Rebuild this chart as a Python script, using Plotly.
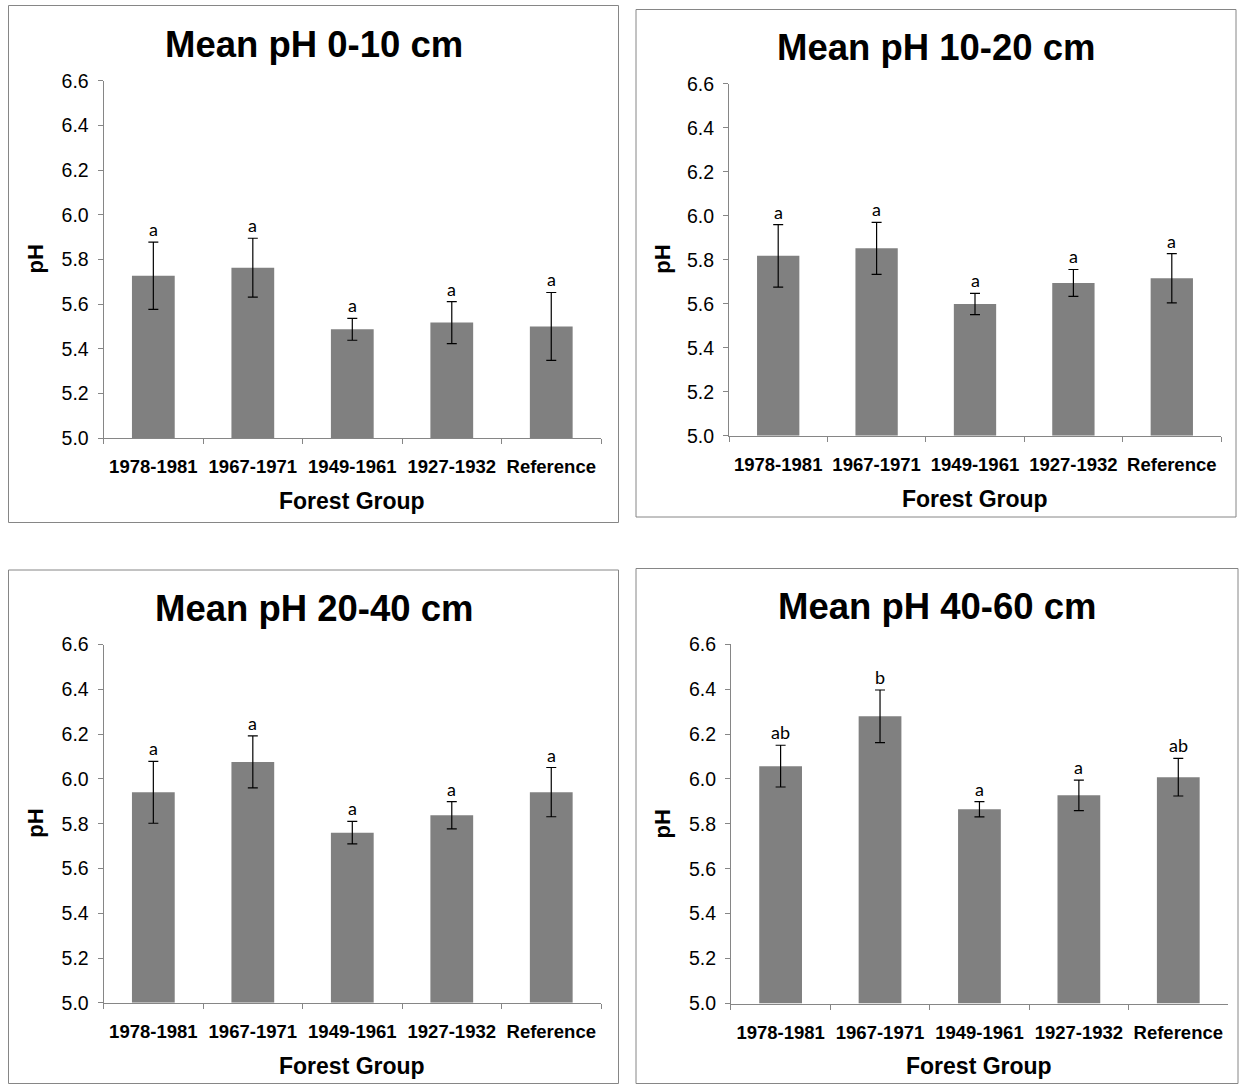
import plotly.graph_objects as go

W, H = 1241, 1084

categories = ["1978-1981", "1967-1971", "1949-1961", "1927-1932", "Reference"]

titles = ["Mean pH 0-10 cm", "Mean pH 10-20 cm", "Mean pH 20-40 cm", "Mean pH 40-60 cm"]

mean_0_10 = [5.727, 5.763, 5.487, 5.517, 5.500]
err_0_10 = [0.151, 0.132, 0.049, 0.094, 0.152]
lab_0_10 = ["a", "a", "a", "a", "a"]

mean_10_20 = [5.818, 5.852, 5.599, 5.695, 5.716]
err_10_20 = [0.142, 0.118, 0.048, 0.061, 0.112]
lab_10_20 = ["a", "a", "a", "a", "a"]

mean_20_40 = [5.940, 6.076, 5.760, 5.838, 5.941]
err_20_40 = [0.138, 0.116, 0.050, 0.061, 0.110]
lab_20_40 = ["a", "a", "a", "a", "a"]

mean_40_60 = [6.057, 6.279, 5.865, 5.927, 6.008]
err_40_60 = [0.093, 0.117, 0.034, 0.068, 0.084]
lab_40_60 = ["ab", "b", "a", "a", "ab"]

y_ticks = [5.0, 5.2, 5.4, 5.6, 5.8, 6.0, 6.2, 6.4, 6.6]
x_title = "Forest Group"
y_title = "pH"

panels = [
    dict(mean=mean_0_10, err=err_0_10, lab=lab_0_10, title=titles[0],
         box=(8.5, 5.5, 618.5, 522.5), plot=(103.6, 80.9, 601.0, 438.0),
         title_y=44, xt_y=501.4, yt_x=35),
    dict(mean=mean_10_20, err=err_10_20, lab=lab_10_20, title=titles[1],
         box=(636, 9.5, 1236, 517), plot=(729.0, 83.8, 1221.0, 435.8),
         title_y=47.3, xt_y=499.2, yt_x=663),
    dict(mean=mean_20_40, err=err_20_40, lab=lab_20_40, title=titles[2],
         box=(8.5, 570, 618.5, 1083.5), plot=(103.6, 644.6, 601.0, 1002.8),
         title_y=608.5, xt_y=1065.5, yt_x=36),
    dict(mean=mean_40_60, err=err_40_60, lab=lab_40_60, title=titles[3],
         box=(636, 568.5, 1238, 1083.5), plot=(730.9, 644.2, 1228.0, 1003.5),
         title_y=606.8, xt_y=1066, yt_x=662.6),
]

def px(x):
    return x / W

def py(y):
    return 1 - y / H

AX = "#868686"
fig = go.Figure()
shapes = []
annotations = []

for i, p in enumerate(panels, start=1):
    xa = "x" if i == 1 else f"x{i}"
    ya = "y" if i == 1 else f"y{i}"
    fig.add_trace(go.Bar(
        x=categories, y=[m - 5.0 for m in p["mean"]], base=5.0,
        xaxis=xa, yaxis=ya, width=0.43,
        marker=dict(color="#808080", line=dict(width=0)),
        error_y=dict(type="data", array=p["err"], visible=True,
                     color="#000000", thickness=1.2, width=5),
        showlegend=False, hoverinfo="skip",
    ))
    x0, y0, x1, y1 = p["plot"]
    xkey = "xaxis" if i == 1 else f"xaxis{i}"
    ykey = "yaxis" if i == 1 else f"yaxis{i}"
    fig.update_layout(**{
        xkey: dict(domain=[px(x0), px(x1)], anchor=ya, type="category",
                   range=[-0.5, 4.5], showline=True, linecolor=AX, linewidth=1,
                   ticks="outside", tickson="boundaries", ticklen=5, tickcolor=AX,
                   ticklabelstandoff=12, tickangle=0, automargin=False,
                   showgrid=False, zeroline=False, fixedrange=True,
                   tickfont=dict(family="Liberation Sans, Arial", size=18.5,
                                 color="#000000", weight="bold")),
        ykey: dict(domain=[py(y1), py(y0)], anchor=xa, range=[5.0, 6.6],
                   tickvals=y_ticks, ticktext=[f"{v:.1f}" for v in y_ticks],
                   showline=True, linecolor=AX, linewidth=1,
                   ticks="outside", ticklen=5, tickcolor=AX,
                   ticklabelstandoff=5, automargin=False,
                   showgrid=False, zeroline=False, fixedrange=True,
                   tickfont=dict(family="Liberation Sans, Arial", size=19.5,
                                 color="#000000")),
    })
    bx0, by0, bx1, by1 = p["box"]
    shapes.append(dict(type="rect", xref="paper", yref="paper",
                       x0=px(bx0), x1=px(bx1), y0=py(by1), y1=py(by0),
                       line=dict(color=AX, width=1), fillcolor="rgba(0,0,0,0)"))
    annotations.append(dict(xref="paper", yref="paper", x=px((bx0 + bx1) / 2),
                            y=py(p["title_y"]), text=f"<b>{p['title']}</b>",
                            showarrow=False, xanchor="center", yanchor="middle",
                            font=dict(family="Liberation Sans, Arial", size=36.5,
                                      color="#000000")))
    annotations.append(dict(xref="paper", yref="paper", x=px((x0 + x1) / 2),
                            y=py(p["xt_y"]), text=f"<b>{x_title}</b>",
                            showarrow=False, xanchor="center", yanchor="middle",
                            font=dict(family="Liberation Sans, Arial", size=23,
                                      color="#000000")))
    annotations.append(dict(xref="paper", yref="paper", x=px(p["yt_x"]),
                            y=py((y0 + y1) / 2), text=f"<b>{y_title}</b>",
                            textangle=-90, showarrow=False,
                            xanchor="center", yanchor="middle",
                            font=dict(family="Liberation Sans, Arial", size=22,
                                      color="#000000")))
    for c, m, e, t in zip(categories, p["mean"], p["err"], p["lab"]):
        annotations.append(dict(xref=xa, yref=ya, x=c, y=m + e, text=t,
                                showarrow=False, xanchor="center", yanchor="bottom",
                                yshift=0,
                                font=dict(family="Lato, Open Sans", size=18,
                                          color="#000000")))

fig.update_layout(width=W, height=H, margin=dict(l=0, r=0, t=0, b=0),
                  paper_bgcolor="#ffffff", plot_bgcolor="#ffffff",
                  bargap=0.57, shapes=shapes, annotations=annotations)

fig.write_html("out.html")
